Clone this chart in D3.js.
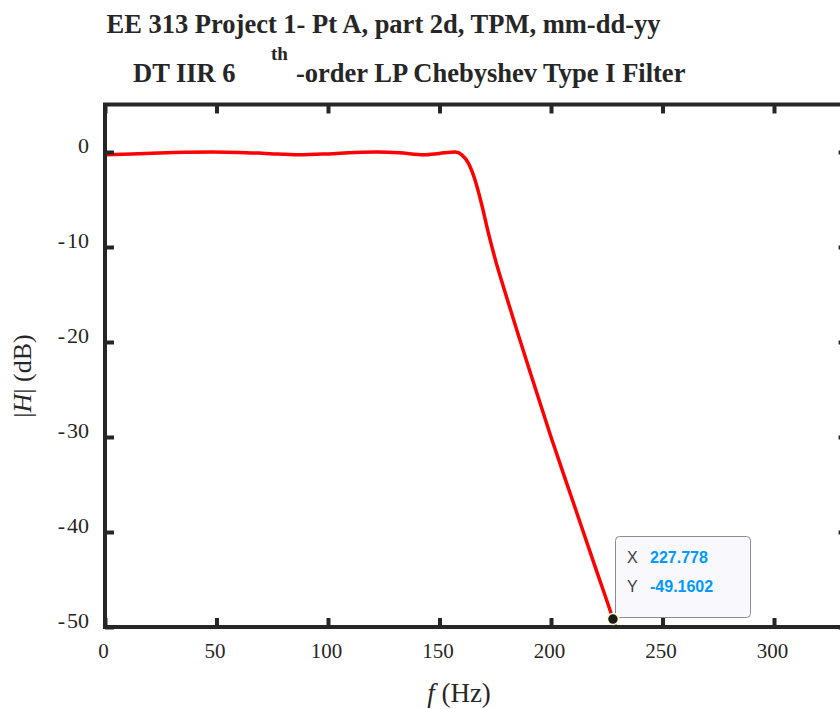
<!DOCTYPE html>
<html lang="en">
<head>
  <meta charset="UTF-8">
  <title>DT IIR 6th-order LP Chebyshev Type I Filter</title>
  <script src="https://d3js.org/d3.v7.min.js"></script>
  <style>
    body { margin: 0; background: #ffffff; }
    svg { display: block; }
    .serif { font-family: "Liberation Serif", "Times New Roman", serif; fill: #262626; }
    .tip { font-family: "Liberation Sans", Arial, sans-serif; font-size: 16px; }
  </style>
</head>
<body>
  <svg id="chart" width="840" height="709"></svg>
  <script>
    // Frequency response (Hz, dB)
    const freqs = [0, 12, 24, 36, 48, 60, 72, 87, 100, 112, 122, 132, 143, 150, 157,
                   160, 163, 166, 169, 172, 175, 180, 185, 190, 200, 210, 220, 227.778, 232];
    const magDb = [-0.3, -0.22, -0.1, -0.02, 0, -0.04, -0.15, -0.3, -0.2, -0.05, 0, -0.08, -0.3, -0.15, 0,
                   -0.3, -1.2, -3.0, -5.6, -8.6, -11.3, -15.2, -19.0, -22.7, -30.0, -36.9, -43.8, -49.1602, -52.3];
    const xTicks = [0, 50, 100, 150, 200, 250, 300];
    const yTicks = [-50, -40, -30, -20, -10, 0];
    const tipX = 227.778, tipY = -49.1602;

    const svg = d3.select("#chart");
    const axisColor = "#262626";

    const x = d3.scaleLinear().domain([0, 333]).range([105, 105 + 333 * 2.23]);
    const y = d3.scaleLinear().domain([-50, 5]).range([627, 104.5]);
    const [x0, x1] = x.range(), [y0, y1] = y.range();

    // clip for the curve
    svg.append("clipPath").attr("id", "plotClip")
      .append("rect").attr("x", x0).attr("y", y1).attr("width", x1 - x0).attr("height", y0 - y1);

    // response curve
    const data = freqs.map((f, i) => ({f: f, v: magDb[i]}));
    svg.append("path")
      .datum(data)
      .attr("clip-path", "url(#plotClip)")
      .attr("fill", "none")
      .attr("stroke", "#ff0000")
      .attr("stroke-width", 3.5)
      .attr("d", d3.line().x(d => x(d.f)).y(d => y(d.v)).curve(d3.curveMonotoneX));

    // axes (ticks pointing inward)
    function styleAxis(g) {
      g.select(".domain").remove();
      g.selectAll(".tick line").attr("stroke", axisColor).attr("stroke-width", 4);
    }
    // plain hyphen, slightly spaced, as the reference draws it
    const fmt = d => d < 0 ? "-\u200A" + Math.abs(d) : String(d);
    svg.append("g").attr("transform", `translate(0,${y0})`)
      .call(d3.axisBottom(x).tickValues(xTicks).tickSize(-9).tickFormat(fmt))
      .call(styleAxis)
      .call(g => g.selectAll(".tick text")
        .attr("class", "serif").attr("x", -2).attr("y", 31).attr("dy", 0)
        .style("font-size", "21px"));
    svg.append("g").attr("transform", `translate(0,${y1})`)
      .call(d3.axisTop(x).tickValues(xTicks).tickSize(-9).tickFormat(""))
      .call(styleAxis);
    svg.append("g").attr("transform", `translate(${x0},0)`)
      .call(d3.axisLeft(y).tickValues(yTicks).tickSize(-9).tickFormat(fmt))
      .call(styleAxis)
      .call(g => g.selectAll(".tick text")
        .attr("class", "serif").attr("x", -16).attr("y", -7).attr("dy", "0.35em")
        .style("font-size", "22px"));
    svg.append("g").attr("transform", `translate(${x1},0)`)
      .call(d3.axisRight(y).tickValues(yTicks).tickSize(-9).tickFormat(""))
      .call(styleAxis);

    svg.append("rect")
      .attr("x", x0).attr("y", y1).attr("width", x1 - x0).attr("height", y0 - y1)
      .attr("fill", "none").attr("stroke", axisColor).attr("stroke-width", 4);

    // axis labels
    const xl = svg.append("text").attr("class", "serif")
      .attr("x", 459).attr("y", 702).attr("text-anchor", "middle").style("font-size", "27px");
    xl.append("tspan").style("font-style", "italic").text("f");
    xl.append("tspan").text(" (Hz)");

    const yl = svg.append("text").attr("class", "serif")
      .attr("transform", "translate(31,376) rotate(-90)")
      .attr("text-anchor", "middle").style("font-size", "26px");
    yl.append("tspan").text("|");
    yl.append("tspan").style("font-style", "italic").text("H");
    yl.append("tspan").text("| (dB)");

    // title
    const titleSize = "26.5px";
    svg.append("text").attr("class", "serif")
      .attr("x", 383.5).attr("y", 33).attr("text-anchor", "middle")
      .style("font-size", titleSize).style("font-weight", "bold")
      .text("EE 313 Project 1- Pt A, part 2d, TPM, mm-dd-yy");
    svg.append("text").attr("class", "serif").attr("x", 133).attr("y", 82)
      .style("font-size", titleSize).style("font-weight", "bold").text("DT IIR 6");
    svg.append("text").attr("class", "serif").attr("x", 271).attr("y", 60)
      .style("font-size", "19px").style("font-weight", "bold").text("th");
    svg.append("text").attr("class", "serif").attr("x", 296).attr("y", 82)
      .style("font-size", titleSize).style("font-weight", "bold").text("-order LP Chebyshev Type I Filter");

    // data tip
    const tip = svg.append("g");
    tip.append("rect")
      .attr("x", 615.5).attr("y", 536.5).attr("width", 135).attr("height", 81).attr("rx", 4)
      .attr("fill", "#f9f9fd").attr("stroke", "#8c8c8c").attr("stroke-width", 1);
    tip.append("text").attr("class", "tip").attr("x", 627).attr("y", 563).attr("fill", "#404040").text("X");
    tip.append("text").attr("class", "tip").attr("x", 650).attr("y", 563)
      .attr("fill", "#0099ff").style("font-weight", "bold").text(tipX.toString());
    tip.append("text").attr("class", "tip").attr("x", 627).attr("y", 592).attr("fill", "#404040").text("Y");
    tip.append("text").attr("class", "tip").attr("x", 650).attr("y", 592)
      .attr("fill", "#0099ff").style("font-weight", "bold").text(tipY.toString());
    tip.append("circle")
      .attr("cx", x(tipX)).attr("cy", y(tipY)).attr("r", 5.5)
      .attr("fill", "#1a1a1a").attr("stroke", "#ffffcc").attr("stroke-width", 1.5);
  </script>
</body>
</html>
